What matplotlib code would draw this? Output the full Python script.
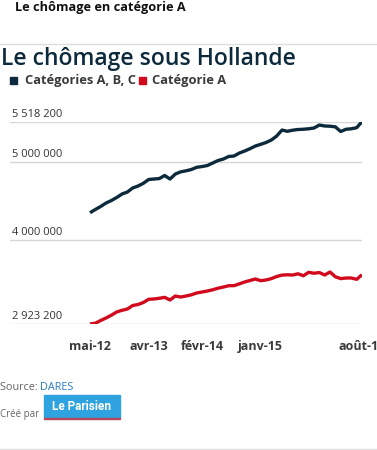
import matplotlib
matplotlib.use("Agg")
import matplotlib.pyplot as plt
from matplotlib.patches import Rectangle
from matplotlib.transforms import offset_copy

plt.rcParams['font.family'] = ['Open Sans', 'DejaVu Sans']

# ---- data (monthly, mai-2012 .. août-2016) ----
months = list(range(52))
cat_abc = [4350, 4391, 4430, 4474, 4506, 4545, 4590, 4615, 4667, 4692,
           4727, 4776, 4782, 4788, 4827, 4782, 4846, 4874, 4887, 4904,
           4932, 4942, 4955, 4987, 5019, 5038, 5071, 5077, 5115, 5141,
           5171, 5205, 5227, 5250, 5282, 5333, 5410, 5394, 5408, 5417,
           5420, 5426, 5436, 5474, 5462, 5459, 5451, 5391, 5420, 5426,
           5440, 5518.2]
cat_a = [2923.2, 2933, 2968, 3000, 3036, 3077, 3099, 3115, 3160, 3173,
         3199, 3240, 3244, 3253, 3265, 3231, 3282, 3269, 3282, 3297,
         3321, 3333, 3346, 3362, 3382, 3397, 3414, 3415, 3438, 3462,
         3481, 3500, 3479, 3487, 3505, 3532, 3550, 3554, 3551, 3567,
         3542, 3586, 3574, 3583, 3551, 3590, 3529, 3505, 3513, 3513,
         3496, 3555]
cat_abc = [v * 1000 for v in cat_abc]
cat_a = [v * 1000 for v in cat_a]

xtick_pos = [0, 11, 21, 32, 51]
xtick_labels = ["mai-12", "avr-13", "févr-14", "janv-15", "août-16"]
ytick_vals = [2923200, 4000000, 5000000, 5518200]
ytick_labels = ["2 923 200", "4 000 000", "5 000 000", "5 518 200"]

series_names = ["Catégories A, B, C", "Catégorie A"]
colors = ["#0c2a3b", "#d10a1e"]

W, H = 377, 450
fig = plt.figure(figsize=(W / 100, H / 100), dpi=100)

def fx(px):
    return px / W

def fy(py):
    return 1 - py / H

# axes in pixel layout
left, right, top, bottom = 10, 362, 121.6, 324
ax = fig.add_axes([fx(left), fy(bottom), fx(right - left), (bottom - top) / H])
ax.plot(months, cat_abc, color=colors[0], lw=2.4, solid_capstyle='butt', zorder=3)
ax.plot(months, cat_a, color=colors[1], lw=2.4, solid_capstyle='butt', zorder=3)
ax.set_xlim(-15, 51)
ax.set_ylim(ytick_vals[0], ytick_vals[-1])
for s in ax.spines.values():
    s.set_visible(False)
ax.set_yticks(ytick_vals)
ax.set_yticklabels([])
ax.tick_params(axis='y', length=0)
ax.grid(axis='y', color='#d6d6d6', lw=1.0, zorder=0)
ax.set_xticks(xtick_pos)
ax.set_xticklabels(xtick_labels, fontsize=9, fontweight='bold', color='#3a3a3a')
ax.tick_params(axis='x', length=0, pad=11.5)
for lab in ax.get_xticklabels():
    lab.set_clip_on(False)

trans = offset_copy(ax.get_yaxis_transform(), fig=fig, x=1.5, y=1.5, units='points')
for v, lab in zip(ytick_vals, ytick_labels):
    ax.text(0, v, lab, transform=trans, ha='left', va='bottom', fontsize=8,
            color='#333333', clip_on=False)

# header
fig.text(fx(15), fy(8), "Le chômage en catégorie A", fontsize=9.2, fontweight='bold',
         color='#111111', ha='left', va='center')
fig.add_artist(plt.Line2D([0, 1], [fy(43.5), fy(43.5)], color='#dddddd', lw=1))
fig.text(fx(1), fy(65), "Le chômage sous Hollande", fontsize=16.5, fontweight='semibold',
         color='#0c2a3b', ha='left', va='baseline')

# legend
fig.add_artist(Rectangle((fx(10), fy(84)), fx(7), 7 / H, color=colors[0]))
fig.text(fx(25), fy(80.5), series_names[0], fontsize=9.3, fontweight='bold',
         color='#3a3a3a', ha='left', va='center')
fig.add_artist(Rectangle((fx(139), fy(84)), fx(7), 7 / H, color=colors[1]))
fig.text(fx(152), fy(80.5), series_names[1], fontsize=9.3, fontweight='bold',
         color='#3a3a3a', ha='left', va='center')

# footer
fig.text(fx(0), fy(387), "Source: ", fontsize=7.8, color='#666666', ha='left', va='center')
fig.text(fx(40), fy(387), "DARES", fontsize=7.8, color='#2a7bc4', ha='left', va='center')
fig.text(fx(0), fy(414), "Créé par", fontsize=7.0, color='#666666', ha='left', va='center')
fig.add_artist(Rectangle((fx(44), fy(418)), fx(76), 23 / H, color='#2ea3df'))
fig.add_artist(Rectangle((fx(44), fy(419)), fx(76), 1.5 / H, color='#b5475a'))
fig.text(fx(82), fy(407), "Le Parisien", fontsize=8.5, color='white', ha='center',
         va='center', fontweight='bold', family='Roboto')
fig.add_artist(plt.Line2D([0, 1], [fy(449), fy(449)], color='#dddddd', lw=1))

fig.savefig("out.png", dpi=100, facecolor='white')
